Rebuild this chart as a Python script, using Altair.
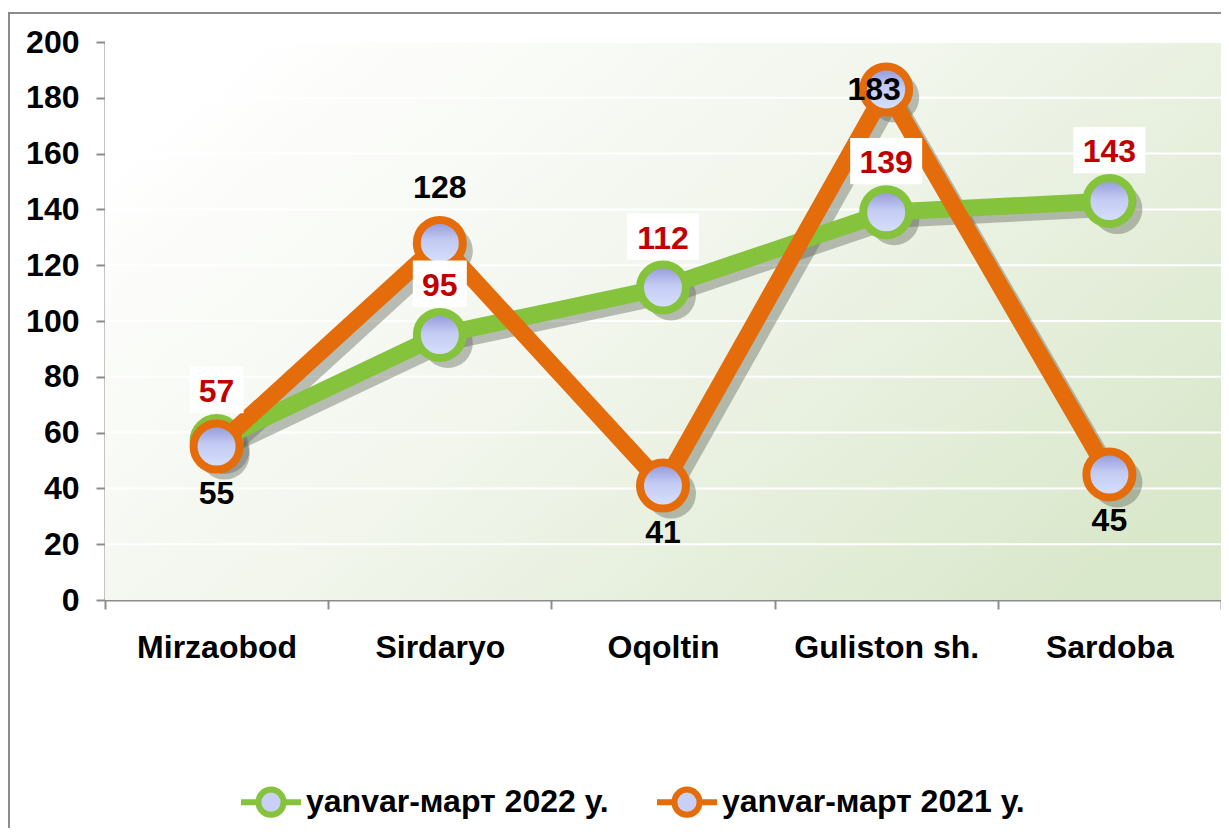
import altair as alt
import pandas as pd

# ---------------- data ----------------
categories = ["Mirzaobod", "Sirdaryo", "Oqoltin", "Guliston sh.", "Sardoba"]
values_2022 = [57, 95, 112, 139, 143]
values_2021 = [55, 128, 41, 183, 45]
series_names = ["yanvar-март 2022 у.", "yanvar-март 2021 у."]
y_ticks = [0, 20, 40, 60, 80, 100, 120, 140, 160, 180, 200]
grid_values = [20, 40, 60, 80, 100, 120, 140, 160, 180, 200]
label_side_2021 = ["below", "above", "below", "left", "below"]

# ---------------- style ----------------
W, H = 1116, 558
GREEN = "#84C33B"
ORANGE = "#E46C0A"
RED = "#C00000"
FONT = "Liberation Sans"
FS = 32
AXIS_GRAY = "#8C8C8C"

df = pd.DataFrame({
    "cat": categories * 2,
    "v": values_2022 + values_2021,
    "series": [series_names[0]] * 5 + [series_names[1]] * 5,
    "side": ["top"] * 5 + label_side_2021,
})
grid_df = pd.DataFrame({"v": grid_values})
dummy = pd.DataFrame({"a": [0]})

x_scale = alt.Scale(type="band", paddingInner=0, paddingOuter=0, domain=categories)
y_scale = alt.Scale(domain=[0, 200], nice=False)

x_axis = alt.Axis(
    tickBand="extent", labelAngle=0, labelFont=FONT, labelFontSize=FS,
    labelFontWeight="bold", labelColor="black", labelPadding=23, labelLimit=400,
    domainColor=AXIS_GRAY, domainWidth=2, tickColor=AXIS_GRAY, tickWidth=2,
    tickSize=9, grid=False,
)
y_axis = alt.Axis(
    values=y_ticks, labelFont=FONT, labelFontSize=FS, labelFontWeight="bold",
    labelColor="black", labelPadding=17, domainColor=AXIS_GRAY, domainWidth=2,
    tickColor=AXIS_GRAY, tickWidth=2, tickSize=9, grid=False,
)


def X():
    return alt.X("cat:N", sort=categories, scale=x_scale, title=None, axis=x_axis)


def Y():
    return alt.Y("v:Q", scale=y_scale, title=None, axis=y_axis)


base = alt.Chart(df)
green = base.transform_filter(alt.datum.series == series_names[0])
orange = base.transform_filter(alt.datum.series == series_names[1])

# background gradient
bg = alt.Chart(dummy).mark_rect(
    fill=alt.LinearGradient(
        gradient="linear",
        stops=[
            alt.GradientStop(color="#ffffff", offset=0),
            alt.GradientStop(color="#f2f6ed", offset=0.45),
            alt.GradientStop(color="#d9e7ca", offset=1),
        ],
        x1=0, y1=0.2, x2=1, y2=0.8,
    )
).encode(x=alt.value(0), x2=alt.value(W), y=alt.value(0), y2=alt.value(H))

grid = alt.Chart(grid_df).mark_rule(color="white", strokeWidth=2).encode(
    y=Y(), x=alt.value(0), x2=alt.value(W)
)

LEG_PATH = ("M-1,0 L-0.42,0 M0.42,0 L1,0 "
            "M0.42,0 A0.42,0.42 0 1,1 -0.42,0 A0.42,0.42 0 1,1 0.42,0 Z")

legend = alt.Legend(
    orient="none", legendX=133, legendY=727, direction="horizontal", title=None,
    symbolType=LEG_PATH, symbolSize=3600, symbolStrokeWidth=6,
    symbolFillColor="#c8d0f5",
    labelFont=FONT, labelFontSize=FS, labelFontWeight="bold", labelColor="black",
    labelLimit=1000, labelOffset=2, columnPadding=36, padding=0,
)
line_color = alt.Color("series:N", scale=alt.Scale(domain=series_names, range=[GREEN, ORANGE]),
                       legend=legend)

SH = dict(xOffset=8, yOffset=8)
shadow_lines = base.mark_line(color="#5a6155", opacity=0.4, strokeWidth=15, **SH).encode(
    x=X(), y=Y(), detail="series:N"
)
shadow_pts = base.mark_point(shape="circle", size=2500, filled=True, color="#5a6155", opacity=0.4, **SH).encode(
    x=X(), y=Y()
)

PT_FILL = alt.LinearGradient(
    gradient="linear",
    stops=[
        alt.GradientStop(color="#8e93d5", offset=0),
        alt.GradientStop(color="#c3cbf3", offset=0.45),
        alt.GradientStop(color="#d8e2fd", offset=1),
    ],
    x1=0, y1=0, x2=0, y2=1,
)


def series_layers(src, col):
    ln = src.mark_line(strokeWidth=17).encode(x=X(), y=Y(), color=line_color)
    pt = src.mark_point(shape="circle", size=2116, filled=True, fill=PT_FILL, stroke=col,
                        strokeWidth=8, opacity=1).encode(x=X(), y=Y())
    return [ln, pt]


# label boxes for 2022 series
BOX2 = "M-1,-0.865 L1,-0.865 L1,0.865 L-1,0.865 Z"
BOX3 = "M-1,-0.643 L1,-0.643 L1,0.643 L-1,0.643 Z"
LBL_DY = -51
box2 = green.transform_filter(alt.datum.v < 100).mark_point(
    shape=BOX2, size=2916, filled=True, fill="white", opacity=1, strokeOpacity=0, yOffset=LBL_DY
).encode(x=X(), y=Y())
box3 = green.transform_filter(alt.datum.v >= 100).mark_point(
    shape=BOX3, size=5184, filled=True, fill="white", opacity=1, strokeOpacity=0, yOffset=LBL_DY
).encode(x=X(), y=Y())

TXT = dict(font=FONT, fontSize=FS, fontWeight="bold", baseline="middle")
green_txt = green.mark_text(color=RED, dy=LBL_DY + 2, **TXT).encode(x=X(), y=Y(), text="v:Q")
o_below = orange.transform_filter(alt.datum.side == "below").mark_text(color="black", dy=47, **TXT).encode(
    x=X(), y=Y(), text="v:Q")
o_above = orange.transform_filter(alt.datum.side == "above").mark_text(color="black", dy=-55, **TXT).encode(
    x=X(), y=Y(), text="v:Q")
o_left = orange.transform_filter(alt.datum.side == "left").mark_text(color="black", dx=-12, dy=1, **TXT).encode(
    x=X(), y=Y(), text="v:Q")

border = alt.Chart(dummy).mark_rect(fill=None, stroke=AXIS_GRAY, strokeWidth=2).encode(
    x=alt.value(-96), x2=alt.value(W + 400), y=alt.value(-29), y2=alt.value(H + 400)
)

layers = [bg, grid, shadow_lines, shadow_pts] + series_layers(green, GREEN) + series_layers(orange, ORANGE) + [
    box2, box3, green_txt, o_below, o_above, o_left, border]

chart = alt.layer(*layers).properties(
    width=W, height=H,
    autosize=alt.AutoSizeParams(type="none"),
    padding={"left": 97, "top": 34, "right": 0, "bottom": 228},
    background="white",
).configure_view(stroke=None)

chart.save("out.html", embed_options={"renderer": "svg", "actions": False})
